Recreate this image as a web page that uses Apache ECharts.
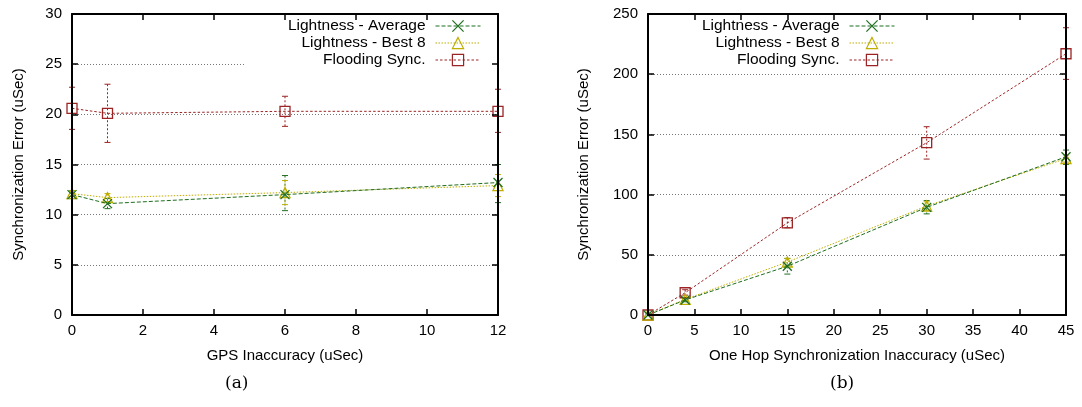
<!DOCTYPE html>
<html><head><meta charset="utf-8">
<script src="https://cdn.jsdelivr.net/npm/echarts@6/dist/echarts.min.js"></script>
<style>html,body{margin:0;padding:0;background:#fff}#c{width:1082px;height:407px}</style>
</head><body><div id="c"></div>
<script>
// ---------- data ----------
const seriesNames = ['Lightness - Average', 'Lightness - Best 8', 'Flooding Sync.'];

// (a) GPS inaccuracy
const gpsX = [0, 1, 6, 12];
const gpsAverage      = [12.0, 11.1, 12.0, 13.2];
const gpsAverageLow   = [11.6, 10.6, 10.4, 11.2];
const gpsAverageHigh  = [12.4, 11.6, 13.9, 15.0];
const gpsBest8        = [12.1, 11.7, 12.2, 12.9];
const gpsBest8Low     = [11.8, 11.3, 11.0, 11.8];
const gpsBest8High    = [12.4, 12.1, 13.4, 14.0];
const gpsFlooding     = [20.6, 20.1, 20.3, 20.3];
const gpsFloodingLow  = [18.5, 17.2, 18.8, 18.2];
const gpsFloodingHigh = [22.7, 23.0, 21.8, 22.5];

// (b) one hop synchronization inaccuracy
const hopX = [0, 4, 15, 30, 45];
const hopAverage      = [0, 12.5, 40.5, 89.4, 131.4];
const hopAverageLow   = [0, 11.0, 34.0, 84.0, 125.0];
const hopAverageHigh  = [0, 14.0, 47.0, 95.0, 137.0];
const hopBest8        = [0, 13.0, 44.0, 90.5, 130.0];
const hopBest8Low     = [0, 12.0, 41.0, 87.0, 127.0];
const hopBest8High    = [0, 14.0, 47.0, 94.0, 133.0];
const hopFlooding     = [0, 18.5, 76.5, 143.1, 217.0];
const hopFloodingLow  = [0, 16.5, 72.5, 129.5, 195.7];
const hopFloodingHigh = [0, 21.0, 81.0, 156.4, 238.6];

// axes
const gpsXTicks = { min: 0, max: 12, interval: 2 };
const gpsYTicks = { min: 0, max: 30, interval: 5 };
const hopXTicks = { min: 0, max: 45, interval: 5 };
const hopYTicks = { min: 0, max: 250, interval: 50 };
const axisTitles = {
  gpsX: 'GPS Inaccuracy (uSec)',
  hopX: 'One Hop Synchronization Inaccuracy (uSec)',
  y: 'Synchronization Error (uSec)'
};
const captions = ['(a)', '(b)'];

// ---------- styles ----------
const FONT = 'Liberation Sans';
const COLORS = ['#1f6e1f', '#bfae00', '#9c2424'];
const DASHES = [[4, 2], [1.5, 1.5], [2.5, 2]];
const SYMBOLS = ['path://M0,0L10,10M10,0L0,10', 'triangle', 'rect'];

const chart = echarts.init(document.getElementById('c'), null, { renderer: 'canvas' });

const border = { show: true, onZero: false, lineStyle: { color: '#000', width: 2 } };
const ticks = { show: true, inside: true, length: 6, lineStyle: { color: '#000', width: 1.5 } };

function mainX(gridIndex, t, name, nameGap) {
  return {
    type: 'value', gridIndex, position: 'bottom', min: t.min, max: t.max, interval: t.interval, z: 5,
    name, nameLocation: 'middle', nameGap,
    nameTextStyle: { fontFamily: FONT, fontSize: 15, color: '#000' },
    axisLine: border, axisTick: ticks,
    axisLabel: { fontFamily: FONT, fontSize: 15, color: '#000', margin: 8 },
    splitLine: { show: false }
  };
}
function mirrorX(gridIndex, t) {
  return {
    type: 'value', gridIndex, position: 'top', min: t.min, max: t.max, interval: t.interval, z: 5,
    axisLine: border, axisTick: ticks, axisLabel: { show: false }, splitLine: { show: false }
  };
}
function mainY(gridIndex, t, name, nameGap) {
  return {
    type: 'value', gridIndex, position: 'left', min: t.min, max: t.max, interval: t.interval, z: 5,
    name, nameLocation: 'middle', nameGap,
    nameTextStyle: { fontFamily: FONT, fontSize: 15, color: '#000' },
    axisLine: border, axisTick: ticks,
    axisLabel: { fontFamily: FONT, fontSize: 15, color: '#000', margin: 10 },
    splitLine: { show: false }
  };
}
function mirrorY(gridIndex, t) {
  return {
    type: 'value', gridIndex, position: 'right', min: t.min, max: t.max, interval: t.interval, z: 5,
    axisLine: border, axisTick: ticks, axisLabel: { show: false }, splitLine: { show: false }
  };
}
// grid lines only (drawn below the key box)
function gridY(gridIndex, t) {
  return {
    type: 'value', gridIndex, min: t.min, max: t.max, interval: t.interval, z: 0,
    axisLine: { show: false }, axisTick: { show: false }, axisLabel: { show: false },
    splitLine: { show: true, lineStyle: { color: '#777', width: 1, type: [1, 2] } }
  };
}

function lineSeries(i, xs, ys, axisIdx) {
  return {
    type: 'line', name: seriesNames[i], xAxisIndex: axisIdx.x, yAxisIndex: axisIdx.y,
    data: xs.map((x, k) => [x, ys[k]]),
    symbol: SYMBOLS[i], symbolSize: i === 0 ? 9 : 10, showSymbol: true, showAllSymbol: true,
    lineStyle: { color: COLORS[i], width: 1, type: DASHES[i] },
    itemStyle: { color: 'rgba(255,255,255,0)', borderColor: COLORS[i], borderWidth: 1.3 },
    emphasis: { disabled: true }, z: 4 + (2 - i) * 0.1, silent: true, animation: false
  };
}
function errSeries(i, xs, lo, hi, axisIdx) {
  const color = COLORS[i];
  return {
    type: 'custom', name: seriesNames[i] + ' err', xAxisIndex: axisIdx.x, yAxisIndex: axisIdx.y,
    data: xs.map((x, k) => [x, lo[k], hi[k]]),
    encode: { x: 0, y: [1, 2] }, silent: true, animation: false, z: 3, clip: false,
    renderItem: function (params, api) {
      const x = api.value(0), l = api.value(1), h = api.value(2);
      if (!(h - l > 0)) return null;
      const p1 = api.coord([x, h]), p2 = api.coord([x, l]);
      const w = 3;
      return {
        type: 'group', children: [
          { type: 'line', shape: { x1: p1[0], y1: p1[1], x2: p2[0], y2: p2[1] },
            style: { stroke: color, lineWidth: 1, lineDash: [2, 2], fill: null } },
          { type: 'line', shape: { x1: p1[0] - w, y1: p1[1], x2: p1[0] + w, y2: p1[1] },
            style: { stroke: color, lineWidth: 1, fill: null } },
          { type: 'line', shape: { x1: p2[0] - w, y1: p2[1], x2: p2[0] + w, y2: p2[1] },
            style: { stroke: color, lineWidth: 1, fill: null } }
        ]
      };
    }
  };
}

const A = { x: 0, y: 0 }, B = { x: 2, y: 2 };
const series = [
  errSeries(0, gpsX, gpsAverageLow, gpsAverageHigh, A),
  errSeries(1, gpsX, gpsBest8Low, gpsBest8High, A),
  errSeries(2, gpsX, gpsFloodingLow, gpsFloodingHigh, A),
  lineSeries(0, gpsX, gpsAverage, A),
  lineSeries(1, gpsX, gpsBest8, A),
  lineSeries(2, gpsX, gpsFlooding, A),
  errSeries(0, hopX, hopAverageLow, hopAverageHigh, B),
  errSeries(1, hopX, hopBest8Low, hopBest8High, B),
  errSeries(2, hopX, hopFloodingLow, hopFloodingHigh, B),
  lineSeries(0, hopX, hopAverage, B),
  lineSeries(1, hopX, hopBest8, B),
  lineSeries(2, hopX, hopFlooding, B)
];

function legend(right, bg) {
  return {
    data: seriesNames, orient: 'vertical', align: 'right', right, top: 14, z: 1,
    padding: [4, 17, 4, 42], itemWidth: 45, itemHeight: 14, itemGap: 1,
    backgroundColor: bg, selectedMode: false,
    itemStyle: { borderWidth: 1.2 }, lineStyle: { width: 1 },
    textStyle: { fontFamily: FONT, fontSize: 15.5, lineHeight: 14, color: '#000', padding: [0, 5, 0, 0] }
  };
}

const option = {
  animation: false,
  backgroundColor: '#fff',
  grid: [
    { left: 72, top: 14, width: 426, height: 301 },
    { left: 648, top: 14, width: 418, height: 301 }
  ],
  xAxis: [
    mainX(0, gpsXTicks, axisTitles.gpsX, 33),
    mirrorX(0, gpsXTicks),
    mainX(1, hopXTicks, axisTitles.hopX, 33),
    mirrorX(1, hopXTicks)
  ],
  yAxis: [
    mainY(0, gpsYTicks, axisTitles.y, 46),
    mirrorY(0, gpsYTicks),
    mainY(1, hopYTicks, axisTitles.y, 57),
    mirrorY(1, hopYTicks),
    gridY(0, gpsYTicks),
    gridY(1, hopYTicks)
  ],
  legend: [legend(584, '#fff'), legend(170, 'rgba(255,255,255,0)')],
  graphic: [
    { type: 'text', left: 225, top: 375, style: { text: captions[0], font: '17px "DejaVu Serif"', fill: '#000' } },
    { type: 'text', left: 830, top: 375, style: { text: captions[1], font: '17px "DejaVu Serif"', fill: '#000' } }
  ],
  series
};
chart.setOption(option);
</script>
</body></html>
